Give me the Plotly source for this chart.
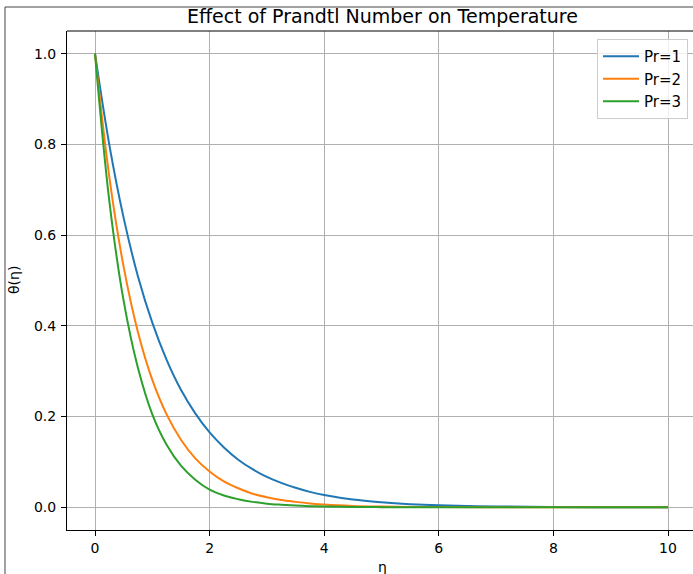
import plotly.graph_objects as go

# similarity variable
eta = [0, 0.25, 0.5, 0.75, 1.0, 1.25, 1.5, 1.75, 2.0, 2.25, 2.5, 2.75, 3.0, 3.25,
       3.5, 3.75, 4.0, 4.5, 5.0, 5.5, 6.0, 7.0, 8.0, 9.0, 10.0]

# temperature profiles theta(eta) for each Prandtl number
theta_pr1 = [1.0, 0.799, 0.638, 0.509, 0.407, 0.325, 0.259, 0.207, 0.165, 0.132,
             0.105, 0.084, 0.067, 0.054, 0.043, 0.034, 0.027, 0.017, 0.011, 0.007,
             0.0045, 0.0018, 0.0007, 0.0003, 0.0001]
theta_pr2 = [1.0, 0.728, 0.530, 0.386, 0.281, 0.205, 0.149, 0.108, 0.079, 0.057,
             0.042, 0.030, 0.022, 0.016, 0.012, 0.0086, 0.006, 0.003, 0.0017, 0.0009,
             0.0005, 0.0001, 0.0, 0.0, 0.0]
theta_pr3 = [1.0, 0.675, 0.455, 0.307, 0.205, 0.138, 0.092, 0.061, 0.039, 0.026,
             0.018, 0.012, 0.008, 0.0057, 0.004, 0.0026, 0.0017, 0.0008, 0.0004, 0.0002,
             0.0001, 0.0, 0.0, 0.0, 0.0]

series = [("Pr=1", theta_pr1, "#1f77b4"),
          ("Pr=2", theta_pr2, "#ff7f0e"),
          ("Pr=3", theta_pr3, "#2ca02c")]

x_ticks = [0, 2, 4, 6, 8, 10]
y_ticks = [0.0, 0.2, 0.4, 0.6, 0.8, 1.0]
y_tick_text = ["0.0", "0.2", "0.4", "0.6", "0.8", "1.0"]

FONT = "DejaVu Sans"
W, H = 693, 574
ML, MR, MT, MB = 67, 0, 31, 44
PW, PH = W - ML - MR, H - MT - MB


def px_x(p):
    return (p - ML) / PW


def px_y(p):
    return (H - MB - p) / PH


fig = go.Figure()
for name, vals, color in series:
    fig.add_trace(go.Scatter(
        x=eta, y=vals, name=name, mode="lines",
        line=dict(color=color, width=2, shape="spline", smoothing=1.0),
    ))

fig.update_layout(
    width=W, height=H,
    margin=dict(l=ML, r=MR, t=MT, b=MB),
    paper_bgcolor="white", plot_bgcolor="white",
    font=dict(family=FONT, size=14, color="black"),
    showlegend=True,
    legend=dict(
        x=px_x(688), xanchor="right", y=px_y(39), yanchor="top",
        bgcolor="rgba(255,255,255,0.8)", bordercolor="#cccccc", borderwidth=1,
        font=dict(family=FONT, size=15, color="black"),
        tracegroupgap=0, itemwidth=36,
    ),
    xaxis=dict(
        range=[-28 / 57.3, (W - 95) / 57.3],
        tickvals=x_ticks, ticks="outside", ticklen=5, tickcolor="black",
        showline=True, linecolor="black", linewidth=1,
        showgrid=True, gridcolor="#b0b0b0", gridwidth=1,
        zeroline=False, tickfont=dict(family=FONT, size=14),
    ),
    yaxis=dict(
        range=[-0.05, 1.05],
        tickvals=y_ticks, ticktext=y_tick_text, ticks="outside", ticklen=5,
        tickcolor="black", ticklabelstandoff=2,
        showline=True, linecolor="black", linewidth=1,
        showgrid=True, gridcolor="#b0b0b0", gridwidth=1,
        zeroline=False, tickfont=dict(family=FONT, size=14),
    ),
    annotations=[
        dict(text="Effect of Prandtl Number on Temperature", xref="paper", yref="paper",
             x=px_x(382), y=px_y(16), xanchor="center", yanchor="middle",
             showarrow=False, font=dict(family=FONT, size=19, color="black")),
        dict(text="η", xref="paper", yref="paper",
             x=px_x(382), y=px_y(567), xanchor="center", yanchor="middle",
             showarrow=False, font=dict(family=FONT, size=14, color="black")),
        dict(text="θ(η)", xref="paper", yref="paper", textangle=-90,
             x=px_x(14), y=px_y(280), xanchor="center", yanchor="middle",
             showarrow=False, font=dict(family=FONT, size=14, color="black")),
    ],
    shapes=[
        # top spine of the axes box
        dict(type="line", xref="paper", yref="paper", x0=0, x1=1, y0=1, y1=1,
             line=dict(color="black", width=1)),
        # outer figure frame
        dict(type="line", xref="paper", yref="paper", x0=px_x(5), x1=px_x(5),
             y0=px_y(7), y1=px_y(H), line=dict(color="#444444", width=1)),
        dict(type="line", xref="paper", yref="paper", x0=px_x(5), x1=px_x(W),
             y0=px_y(7), y1=px_y(7), line=dict(color="#444444", width=1)),
    ],
)

fig.write_html("out.html")
